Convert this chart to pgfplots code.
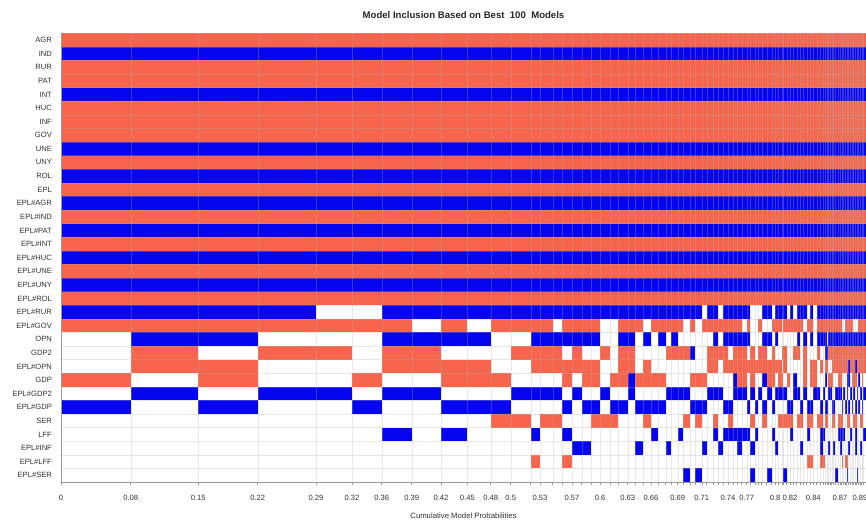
\documentclass[border=0pt]{standalone}
\usepackage{pgfplots}
\usepackage{pgfplotstable}
\pgfplotsset{compat=1.18}
\usepackage{fontspec}
\setmainfont{Liberation Sans}
\definecolor{cred}{RGB}{246,101,76}
\definecolor{cblue}{RGB}{5,5,240}
\definecolor{ctext}{RGB}{50,50,50}

% variables included in every model: y position (AGR=32 ... EPL#ROL=13), sign
\pgfplotstableread{
y s
32 1
31 -1
30 1
29 1
28 -1
27 1
26 1
25 1
24 -1
23 1
22 -1
21 1
20 -1
19 1
18 -1
17 1
16 -1
15 1
14 -1
13 1
}\always

% models: cumulative probability interval, sign of the other variables
% r20 EPL#RUR, r21 EPL#GOV, r22 OPN, r23 GDP2, r24 EPL#OPN, r25 GDP, r26 EPL#GDP2,
% r27 EPL#GDP, r28 SER, r29 LFF, r30 EPL#INF, r31 EPL#LFF, r32 EPL#SER
\pgfplotstableread{
x0 x1 r20 r21 r22 r23 r24 r25 r26 r27 r28 r29 r30 r31 r32
0.0000 0.0778 -1 1 0 0 0 1 0 -1 0 0 0 0 0
0.0778 0.1532 -1 1 -1 1 1 0 -1 0 0 0 0 0 0
0.1532 0.2195 -1 1 -1 0 1 1 0 -1 0 0 0 0 0
0.2195 0.2846 -1 1 0 1 0 0 -1 0 0 0 0 0 0
0.2846 0.3248 0 1 0 1 0 0 -1 0 0 0 0 0 0
0.3248 0.3579 0 1 0 0 0 1 0 -1 0 0 0 0 0
0.3579 0.3914 -1 1 -1 1 1 0 -1 0 0 -1 0 0 0
0.3914 0.4241 -1 0 -1 1 1 0 -1 0 0 0 0 0 0
0.4241 0.4535 -1 1 -1 0 1 1 0 -1 0 -1 0 0 0
0.4535 0.4796 -1 0 -1 0 1 1 0 -1 0 0 0 0 0
0.4796 0.5019 -1 1 0 0 0 1 0 -1 1 0 0 0 0
0.5019 0.5242 -1 1 0 1 0 0 -1 0 1 0 0 0 0
0.5242 0.5346 -1 1 -1 1 1 0 -1 0 0 -1 0 1 0
0.5346 0.5488 -1 1 -1 1 1 0 -1 0 1 0 0 0 0
0.5488 0.5592 -1 0 -1 1 1 0 -1 0 1 0 0 0 0
0.5592 0.5703 -1 1 -1 0 1 1 0 -1 0 -1 0 1 0
0.5703 0.5811 -1 1 -1 1 1 0 -1 0 0 0 -1 0 0
0.5811 0.5915 -1 1 -1 0 1 1 0 -1 0 0 -1 0 0
0.5915 0.6016 -1 1 -1 0 1 1 0 -1 1 0 0 0 0
0.6016 0.6127 -1 0 0 1 0 0 -1 0 1 0 0 0 0
0.6127 0.6220 -1 0 0 0 0 1 0 -1 1 0 0 0 0
0.6220 0.6325 -1 1 -1 1 1 1 0 -1 0 0 0 0 0
0.6325 0.6406 -1 1 -1 1 1 -1 -1 0 0 0 0 0 0
0.6406 0.6499 -1 1 0 0 0 1 0 -1 0 0 -1 0 0
0.6499 0.6585 -1 0 -1 0 1 1 0 -1 1 0 0 0 0
0.6585 0.6666 -1 1 0 0 0 1 0 -1 0 -1 0 0 0
0.6666 0.6749 -1 1 -1 0 0 1 0 -1 0 0 0 0 0
0.6749 0.6808 -1 1 0 1 0 0 -1 0 0 0 -1 0 0
0.6808 0.6883 -1 1 -1 1 0 0 -1 0 0 0 0 0 0
0.6883 0.6945 -1 1 0 1 0 0 -1 0 0 -1 0 0 0
0.6945 0.7020 -1 0 0 1 0 0 -1 0 1 0 0 0 -1
0.7020 0.7076 -1 1 0 -1 0 1 0 -1 0 0 0 0 0
0.7076 0.7151 -1 0 0 0 0 1 0 -1 1 0 0 0 -1
0.7151 0.7206 0 1 0 0 0 1 0 -1 0 0 -1 0 0
0.7206 0.7280 -1 1 0 1 1 0 -1 0 0 0 0 0 0
0.7280 0.7336 -1 1 -1 1 1 0 -1 0 1 -1 0 0 0
0.7336 0.7392 0 1 0 1 0 0 -1 0 0 0 -1 0 0
0.7392 0.7444 -1 1 -1 1 1 0 0 -1 0 -1 0 0 0
0.7444 0.7503 -1 1 -1 0 1 0 0 -1 1 -1 0 0 0
0.7503 0.7545 -1 1 -1 1 1 -1 -1 0 0 -1 0 0 0
0.7545 0.7597 -1 1 -1 1 1 1 -1 0 0 -1 -1 0 0
0.7597 0.7653 -1 0 -1 1 1 1 -1 0 0 -1 0 0 0
0.7653 0.7690 -1 1 -1 0 1 0 0 -1 0 -1 0 0 0
0.7690 0.7746 0 0 0 1 1 1 -1 0 1 0 -1 0 -1
0.7746 0.7782 0 0 0 0 1 0 0 -1 0 -1 0 0 0
0.7782 0.7820 0 1 0 1 1 0 -1 0 0 0 0 0 0
0.7820 0.7876 -1 0 -1 1 1 -1 0 -1 1 0 0 0 0
0.7876 0.7932 -1 0 -1 0 1 1 -1 0 0 0 0 0 -1
0.7932 0.7969 0 1 0 1 1 1 0 -1 0 -1 0 0 0
0.7969 0.8002 -1 1 -1 0 1 0 -1 0 0 0 -1 0 0
0.8002 0.8044 -1 1 0 0 1 1 -1 0 1 0 0 0 0
0.8044 0.8061 -1 0 0 1 0 1 -1 0 1 0 0 0 0
0.8061 0.8099 -1 1 0 1 1 0 -1 0 1 0 0 0 -1
0.8099 0.8136 0 1 0 0 0 1 0 -1 1 0 0 0 0
0.8136 0.8173 -1 1 0 0 0 0 0 -1 1 -1 0 0 0
0.8173 0.8211 0 1 0 1 0 -1 -1 0 0 0 0 0 0
0.8211 0.8248 -1 1 -1 1 0 0 -1 0 1 0 0 0 0
0.8248 0.8285 -1 1 0 0 0 0 0 -1 1 0 -1 0 0
0.8285 0.8322 -1 0 -1 1 1 1 -1 0 0 0 0 0 0
0.8322 0.8359 0 1 0 0 0 0 0 -1 1 -1 0 1 0
0.8359 0.8396 -1 1 -1 0 1 1 0 -1 1 0 0 1 0
0.8396 0.8434 0 0 0 0 1 1 -1 0 0 0 0 0 0
0.8434 0.8471 -1 1 -1 1 0 0 -1 0 1 0 0 0 0
0.8471 0.8508 -1 1 -1 0 1 0 0 -1 1 -1 -1 1 0
0.8508 0.8527 -1 1 -1 0 0 0 -1 0 0 -1 0 1 0
0.8527 0.8546 -1 1 -1 -1 1 -1 0 -1 1 0 0 0 0
0.8546 0.8564 -1 1 0 -1 1 0 0 -1 1 0 0 0 0
0.8564 0.8583 -1 1 -1 1 0 1 -1 0 0 0 -1 0 0
0.8583 0.8601 -1 1 -1 1 0 1 -1 0 0 0 0 0 0
0.8601 0.8619 -1 1 -1 1 1 1 0 -1 1 0 0 0 0
0.8619 0.8638 -1 1 -1 1 1 0 0 -1 1 0 -1 0 0
0.8638 0.8675 -1 1 -1 1 1 0 -1 0 0 0 0 0 -1
0.8675 0.8694 -1 1 -1 1 1 1 -1 0 1 -1 0 0 0
0.8694 0.8713 -1 1 -1 1 1 1 -1 0 1 -1 -1 0 0
0.8713 0.8731 -1 0 -1 1 1 0 0 -1 1 -1 0 1 0
0.8731 0.8750 -1 0 -1 1 1 0 -1 0 0 -1 0 0 0
0.8750 0.8769 -1 1 -1 1 1 0 0 -1 0 0 0 1 0
0.8769 0.8787 -1 1 -1 1 1 -1 -1 0 1 0 0 1 -1
0.8787 0.8806 -1 1 -1 1 -1 -1 0 -1 1 0 -1 0 0
0.8806 0.8825 -1 1 -1 1 1 0 -1 0 0 -1 0 0 0
0.8825 0.8843 -1 1 -1 1 1 1 0 -1 0 0 0 0 0
0.8843 0.8862 -1 0 -1 1 1 1 -1 0 1 0 0 0 0
0.8862 0.8880 -1 0 -1 1 -1 1 0 -1 1 -1 -1 0 0
0.8880 0.8898 -1 0 -1 1 1 0 -1 0 0 0 0 0 -1
0.8898 0.8917 -1 1 -1 1 1 -1 0 -1 0 0 0 0 0
0.8917 0.8936 -1 1 -1 1 1 0 -1 0 1 0 -1 0 0
0.8936 0.8954 -1 1 -1 1 1 1 0 -1 1 0 0 0 0
0.8954 0.8984 -1 1 -1 1 1 0 -1 0 0 -1 0 0 0
}\models

\begin{document}
\begin{tikzpicture}
\useasboundingbox (-45.75pt,-28.5pt) rectangle (603.72pt,361.5pt);
\begin{axis}[
  x=672pt, y=10.2pt,
  xmin=0, xmax=0.8984, ymin=-0.5, ymax=32.5,
  axis on top,
  axis x line*=bottom, axis y line*=left,
  axis line style={gray!80, line width=0.4pt},
  tick align=outside,
  major tick length=2.5pt,
  minor tick length=0pt,
  xtick style={gray!80, line width=0.4pt},
  ytick style={draw=none},
  font=\fontsize{5.7}{6.8}\selectfont,
  ticklabel style={text=ctext},
  ytick={0,...,32},
  yticklabels={EPL\#SER,EPL\#LFF,EPL\#INF,LFF,SER,EPL\#GDP,EPL\#GDP2,GDP,EPL\#OPN,GDP2,OPN,EPL\#GOV,EPL\#RUR,EPL\#ROL,EPL\#UNY,EPL\#UNE,EPL\#HUC,EPL\#INT,EPL\#PAT,EPL\#IND,EPL\#AGR,EPL,ROL,UNY,UNE,GOV,INF,HUC,INT,PAT,RUR,IND,AGR},
  yticklabel style={xshift=-0.8pt},
  minor ytick={-0.5,0.5,...,32.5},
  yminorgrids=true,
  xtick={0,0.0778,0.1532,0.2195,0.2846,0.3248,0.3579,0.3914,0.4241,0.4535,0.4796,0.5019,0.5346,0.5703,0.6016,0.6325,0.6585,0.6883,0.7151,0.7444,0.7653,0.7969,0.8136,0.8396,0.8694,0.8917},
  xticklabels={0,0.08,0.15,0.22,0.29,0.32,0.36,0.39,0.42,0.45,0.48,0.5,0.53,0.57,0.6,0.63,0.66,0.69,0.71,0.74,0.77,0.8,0.82,0.84,0.87,0.89},
  xticklabel style={yshift=-3.5pt},
  xmajorgrids=true,
  extra x ticks={0.5242,0.5488,0.5592,0.5811,0.5915,0.6127,0.6220,0.6406,0.6499,0.6666,0.6749,0.6808,0.6945,0.7020,0.7076,0.7206,0.7280,0.7336,0.7392,0.7503,0.7545,0.7597,0.7690,0.7746,0.7782,0.7820,0.7876,0.7932,0.8002,0.8044,0.8061,0.8099,0.8173,0.8211,0.8248,0.8285,0.8322,0.8359,0.8434,0.8471,0.8508,0.8527,0.8546,0.8564,0.8583,0.8601,0.8619,0.8638,0.8675,0.8713,0.8731,0.8750,0.8769,0.8787,0.8806,0.8825,0.8843,0.8862,0.8880,0.8898,0.8936,0.8954},
  extra x tick labels={},
  extra x tick style={grid=major},
  grid style={gray!60, opacity=0.3, line width=0.25pt},
  minor grid style={gray!60, opacity=0.3, line width=0.25pt},
  title={Model Inclusion Based on Best\ \ 100\ \ Models},
  title style={at={(0.5,1)}, anchor=center, yshift=7.5pt, font=\bfseries\fontsize{7.2}{8.6}\selectfont, text=black!85},
  xlabel={Cumulative Model Probabilities},
  xlabel style={at={(axis description cs:0.5,0)}, anchor=center, yshift=-25.5pt, font=\fontsize{5.8}{7}\selectfont, text=ctext},
]
\addplot[quiver={u=0.8984,v=0}, -, mark=none, draw=cred, line width=10.2pt,
  restrict expr to domain={\thisrow{s}}{0.5:1.5}] table[x expr=0, y=y] {\always};
\addplot[quiver={u=0.8984,v=0}, -, mark=none, draw=cblue, line width=10.2pt,
  restrict expr to domain={\thisrow{s}}{-1.5:-0.5}] table[x expr=0, y=y] {\always};
\pgfplotsinvokeforeach{20,...,32}{
  \addplot[quiver={u=\thisrow{x1}-\thisrow{x0},v=0}, -, mark=none, draw=cred, line width=10.2pt,
    restrict expr to domain={\thisrow{r#1}}{0.5:1.5}] table[x=x0, y expr=32-#1] {\models};
  \addplot[quiver={u=\thisrow{x1}-\thisrow{x0},v=0}, -, mark=none, draw=cblue, line width=10.2pt,
    restrict expr to domain={\thisrow{r#1}}{-1.5:-0.5}] table[x=x0, y expr=32-#1] {\models};
}
\end{axis}
\end{tikzpicture}
\end{document}
